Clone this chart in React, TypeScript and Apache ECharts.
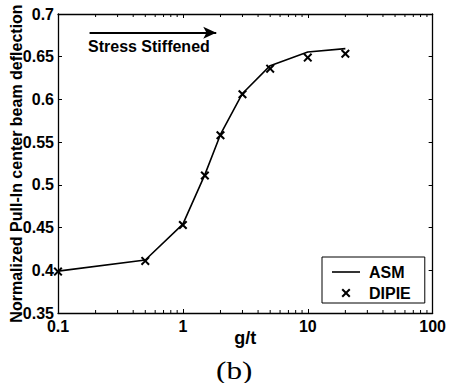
import React, { useEffect, useRef } from "react";
import * as echarts from "echarts";

const gOverT = [0.1, 0.5, 1, 1.5, 2, 3, 5, 10, 20];
const asmValues = [0.399, 0.412, 0.454, 0.512, 0.559, 0.607, 0.6395, 0.6555, 0.6595];
const dipieValues = [0.3985, 0.411, 0.453, 0.511, 0.558, 0.606, 0.636, 0.649, 0.6535];
const yTicks = { min: 0.35, max: 0.7, interval: 0.05 };
const xRange = { min: 0.1, max: 100 };
const arrowFrom = [0.179, 0.678];
const arrowTo = [1.85, 0.678];

const FONT = "'Liberation Sans', Arial, sans-serif";
const CROSS = "path://M0,1.6L1.6,0L5,3.4L8.4,0L10,1.6L6.6,5L10,8.4L8.4,10L5,6.6L1.6,10L0,8.4L3.4,5Z";
const LINE_ICON = "path://M0,0H28V1.6H0Z";

function minorTicks(): number[] {
  const out: number[] = [];
  for (let d = 0.1; d < 100; d *= 10) {
    for (let k = 2; k <= 9; k++) out.push(+(d * k).toPrecision(3));
  }
  return out;
}

export default function App() {
  const ref = useRef<HTMLDivElement>(null);
  useEffect(() => {
    if (!ref.current) return;
    const chart = echarts.init(ref.current, null, { renderer: "svg" });
    const labelStyle = { color: "#000", fontFamily: FONT, fontWeight: "bold" as const, fontSize: 16 };
    const axisLine = { show: true, onZero: false, lineStyle: { color: "#000", width: 1.3 } };
    const tick = { show: true, inside: true, length: 4, lineStyle: { color: "#000", width: 1 } };
    chart.setOption({
      animation: false,
      backgroundColor: "#fff",
      grid: { left: 56, right: 12, top: 14, bottom: 70 },
      xAxis: [
        {
          type: "log",
          logBase: 10,
          min: xRange.min,
          max: xRange.max,
          name: "g/t",
          nameLocation: "middle",
          nameGap: 16,
          nameMoveOverlap: false,
          nameTextStyle: { ...labelStyle, fontSize: 18 },
          axisLine,
          axisTick: tick,
          axisLabel: { ...labelStyle, margin: 5 },
          splitLine: { show: false },
        },
        {
          type: "log",
          logBase: 10,
          min: xRange.min,
          max: xRange.max,
          position: "top",
          axisLine,
          axisTick: tick,
          axisLabel: { show: false },
          splitLine: { show: false },
        },
      ],
      yAxis: [
        {
          type: "value",
          min: yTicks.min,
          max: yTicks.max,
          interval: yTicks.interval,
          name: "Normalized Pull-In center beam deflection",
          nameLocation: "middle",
          nameGap: 34,
          nameMoveOverlap: false,
          nameTextStyle: labelStyle,
          axisLine,
          axisTick: tick,
          axisLabel: { ...labelStyle, margin: 4 },
          splitLine: { show: false },
        },
        {
          type: "value",
          min: yTicks.min,
          max: yTicks.max,
          interval: yTicks.interval,
          position: "right",
          axisLine,
          axisTick: tick,
          axisLabel: { show: false },
          splitLine: { show: false },
        },
      ],
      legend: {
        data: [
          { name: "ASM", icon: LINE_ICON },
          { name: "DIPIE", icon: CROSS },
        ],
        orient: "vertical",
        left: 322,
        top: 257,
        padding: [7, 14, 2, 10],
        itemWidth: 28,
        itemHeight: 9,
        itemGap: 5,
        borderColor: "#000",
        borderWidth: 1,
        borderRadius: 0,
        backgroundColor: "#fff",
        textStyle: { ...labelStyle, lineHeight: 15, padding: [0, 0, 0, 4] },
      },
      graphic: [
        {
          type: "text",
          left: 88,
          top: 38,
          style: { text: "Stress Stiffened", fill: "#000", font: `bold 16px ${FONT}` },
        },
        {
          type: "text",
          left: 216,
          top: 357,
          scaleX: 1.2,
          style: { text: "(b)", fill: "#000", font: "26px 'Liberation Serif', 'Times New Roman', serif" },
        },
      ],
      series: [
        {
          name: "ASM",
          type: "line",
          data: gOverT.map((x, i) => [x, asmValues[i]]),
          symbol: "none",
          lineStyle: { color: "#000", width: 1.6 },
          itemStyle: { color: "#000" },
          markLine: {
            silent: true,
            symbol: ["none", "arrow"],
            symbolSize: [9, 13],
            label: { show: false },
            lineStyle: { color: "#000", width: 2.2, type: "solid" },
            data: [[{ coord: arrowFrom }, { coord: arrowTo }]],
          },
        },
        {
          name: "DIPIE",
          type: "scatter",
          data: gOverT.map((x, i) => [x, dipieValues[i]]),
          symbol: CROSS,
          symbolSize: 9,
          itemStyle: { color: "#000", opacity: 1 },
        },
        {
          type: "custom",
          silent: true,
          clip: false,
          data: minorTicks().map((x) => [x, yTicks.min]),
          renderItem: (_params: any, api: any) => {
            const x = api.value(0);
            const b = api.coord([x, yTicks.min]);
            const t = api.coord([x, yTicks.max]);
            return {
              type: "group",
              children: [
                { type: "line", shape: { x1: b[0], y1: b[1], x2: b[0], y2: b[1] - 3 }, style: { stroke: "#000", lineWidth: 1 } },
                { type: "line", shape: { x1: t[0], y1: t[1], x2: t[0], y2: t[1] + 3 }, style: { stroke: "#000", lineWidth: 1 } },
              ],
            };
          },
        },
      ],
    });
    return () => chart.dispose();
  }, []);
  return <div ref={ref} style={{ position: "fixed", left: 0, top: 0, width: 449, height: 383 }} />;
}
